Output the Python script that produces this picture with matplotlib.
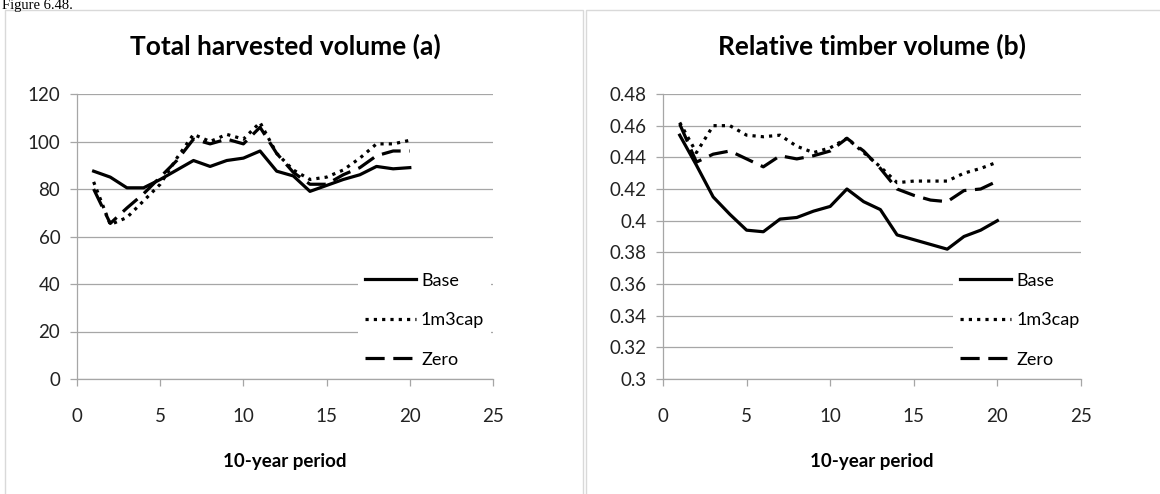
import matplotlib
matplotlib.use('Agg')
import matplotlib.pyplot as plt
from matplotlib.patches import Rectangle
from matplotlib.ticker import FuncFormatter

# Data
periods = list(range(1, 21))

harvest_base = [87.5, 85, 80.5, 80.5, 84, 88, 92, 89.5, 92, 93,
                96, 87.5, 85.5, 79, 81.5, 84, 86, 89.5, 88.5, 89]
harvest_cap = [83, 65, 68, 75, 82, 93, 103, 100, 103, 101,
               108, 95, 88, 84, 85, 88, 93, 99, 99, 100.5]
harvest_zero = [80, 65.5, 72, 78, 85, 92, 101, 99, 101, 99,
                106, 95, 87, 82, 82, 86, 89, 94, 96, 96]

timber_base = [0.454, 0.435, 0.415, 0.404, 0.394, 0.393, 0.401, 0.402, 0.406, 0.409,
               0.420, 0.412, 0.407, 0.391, 0.388, 0.385, 0.382, 0.390, 0.394, 0.400]
timber_cap = [0.462, 0.443, 0.460, 0.460, 0.454, 0.453, 0.454, 0.447, 0.443, 0.446,
              0.452, 0.443, 0.434, 0.424, 0.425, 0.425, 0.425, 0.430, 0.433, 0.437]
timber_zero = [0.461, 0.437, 0.442, 0.444, 0.439, 0.434, 0.441, 0.439, 0.441, 0.444,
               0.452, 0.444, 0.433, 0.420, 0.416, 0.413, 0.412, 0.419, 0.420, 0.425]

labels = ['Base', '1m3cap', 'Zero']

W, H = 1160, 494
fig = plt.figure(figsize=(W / 100, H / 100), dpi=100)
plt.rcParams['font.family'] = ['Lato', 'DejaVu Sans']

# Caption above the charts
fig.text(0.002, 1 - 9 / H, 'Figure 6.48.', family='Liberation Serif', fontsize=10.5,
         va='baseline', ha='left')

# Chart area borders
for x0, x1 in [(5, 583), (586, 1165)]:
    fig.patches.append(Rectangle((x0 / W, -0.05), (x1 - x0) / W, 1.05 - 10.5 / H,
                                 transform=fig.transFigure, fill=False,
                                 edgecolor='#d9d9d9', lw=1))


def draw(ax, series, title, ylim, ystep, leg_x):
    styles = ['-', (0, (1, 1.6)), (0, (6, 2.7))]
    for vals, ls, lab in zip(series, styles, labels):
        ax.plot(periods, vals, color='black', lw=2.3, linestyle=ls, label=lab,
                dash_capstyle='butt', zorder=3)
    ax.set_xlim(0, 25)
    ax.set_ylim(*ylim)
    ax.set_xticks(range(0, 26, 5))
    n = round((ylim[1] - ylim[0]) / ystep)
    ax.set_yticks([ylim[0] + i * ystep for i in range(n + 1)])
    ax.yaxis.set_major_formatter(FuncFormatter(lambda v, p: f'{round(v, 4):g}'))
    ax.grid(axis='y', color='#a6a6a6', lw=0.9, zorder=0)
    for s in ['top', 'right']:
        ax.spines[s].set_visible(False)
    for s in ['left', 'bottom']:
        ax.spines[s].set_color('#a6a6a6')
        ax.spines[s].set_linewidth(0.9)
    ax.tick_params(axis='both', colors='#a6a6a6', labelcolor='#222222', labelsize=13.5,
                   length=5, width=0.9, direction='out')
    ax.tick_params(axis='x', pad=16)
    ax.tick_params(axis='y', pad=7)
    ax.set_title(title, fontsize=19, fontweight='bold', pad=28)
    ax.set_xlabel('10-year period', fontsize=13.5, fontweight='bold', labelpad=20)
    leg = ax.legend(loc='lower left', bbox_to_anchor=(leg_x, 0.015), frameon=True,
                    facecolor='white', edgecolor='none', framealpha=1, fontsize=13,
                    handlelength=2.8, handletextpad=0.3, labelspacing=1.3,
                    borderpad=0.4, borderaxespad=0)
    leg.set_zorder(2.5)


ax1 = fig.add_axes([77 / W, 1 - 379 / H, 416 / W, 285 / H])
draw(ax1, [harvest_base, harvest_cap, harvest_zero], 'Total harvested volume (a)',
     (0, 120), 20, 0.675)

ax2 = fig.add_axes([663 / W, 1 - 379 / H, 418 / W, 285 / H])
draw(ax2, [timber_base, timber_cap, timber_zero], 'Relative timber volume (b)',
     (0.3, 0.48), 0.02, 0.694)

plt.savefig('out.png', dpi=100)
